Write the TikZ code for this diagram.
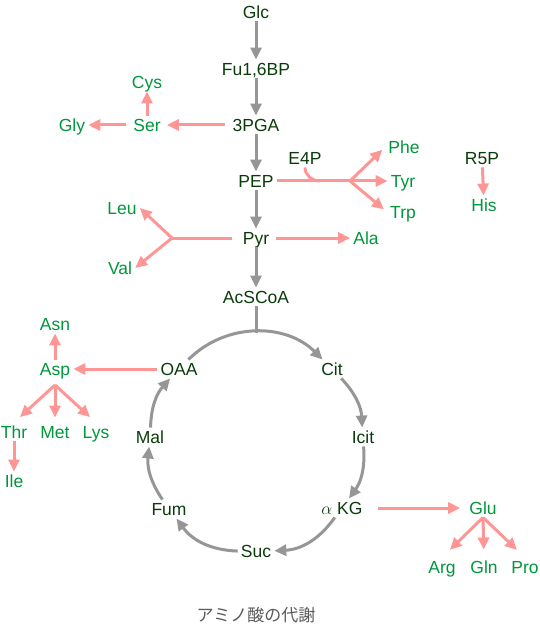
\documentclass[tikz,border=0pt]{standalone}
\usepackage{fontspec}
\setmainfont{Liberation Sans}
\newfontfamily\jpfont{Noto Sans CJK JP}
\usetikzlibrary{arrows.meta}

\definecolor{metab}{RGB}{10,60,10}
\definecolor{amino}{RGB}{0,150,60}
\definecolor{pinkline}{RGB}{255,150,150}
\definecolor{grayline}{RGB}{150,150,150}
\definecolor{captext}{RGB}{90,90,90}

\begin{document}
\begin{tikzpicture}[x=1pt, y=-1pt,
    lbl/.style={font=\fontsize{17.5}{20}\selectfont, text height=12.5pt, text depth=0pt, inner sep=3pt},
    met/.style={lbl, text=metab},
    amn/.style={lbl, text=amino},
    gy/.style={draw=grayline, line width=3pt},
    pk/.style={draw=pinkline, line width=3pt},
    gyarrow/.style={gy, -{Triangle[length=12pt,width=11pt]}},
    pkarrow/.style={pk, -{Triangle[length=12pt,width=11pt]}}
]

\useasboundingbox (0,0) rectangle (539,628);

% --- Glycolysis backbone ---
\node[met] (glc)  at (256,12)  {Glc};
\node[met] (fbp)  at (256,69)  {Fu1,6BP};
\node[met] (pga)  at (256,125) {3PGA};
\node[met] (pep)  at (256,181) {PEP};
\node[met] (pyr)  at (256,238) {Pyr};
\node[met] (acoa) at (256,297) {AcSCoA};
\node[met] (e4p)  at (305,158) {E4P};
\node[met] (r5p)  at (482,158) {R5P};

% --- TCA cycle ---
\node[met] (oaa)  at (179,369) {OAA};
\node[met] (cit)  at (332,369) {Cit};
\node[met] (icit) at (363,437) {Icit};
\node[met] (akg)  at (342,508) {$\alpha$ KG};
\node[met] (suc)  at (256,551) {Suc};
\node[met] (fum)  at (169,509) {Fum};
\node[met] (mal)  at (150,437) {Mal};
\coordinate (tcatop) at (256,333);

% --- Amino acids ---
\node[amn] (ser) at (147,125) {Ser};
\node[amn] (cys) at (147,82)  {Cys};
\node[amn] (gly) at (72,125)  {Gly};
\node[amn] (phe) at (404,147) {Phe};
\node[amn] (tyr) at (403,181) {Tyr};
\node[amn] (trp) at (403,212) {Trp};
\node[amn] (his) at (484,205) {His};
\node[amn] (ala) at (366,238) {Ala};
\node[amn] (leu) at (122,208) {Leu};
\node[amn] (val) at (120,268) {Val};
\node[amn] (asp) at (55,369)  {Asp};
\node[amn] (asn) at (55,324)  {Asn};
\node[amn] (thr) at (14,432)  {Thr};
\node[amn] (met) at (55,432)  {Met};
\node[amn] (lys) at (96,432)  {Lys};
\node[amn] (ile) at (14,481)  {Ile};
\node[amn] (glu) at (483,508) {Glu};
\node[amn] (arg) at (442,567) {Arg};
\node[amn] (gln) at (484,567) {Gln};
\node[amn] (pro) at (525,567) {Pro};

\coordinate (pepfork) at (350,181);
\coordinate (e4pjoin) at (320,181);
\coordinate (pyrfork) at (172,238);
\coordinate (aspfork) at (55,385);

% --- Gray arrows: main pathway ---
\draw[gyarrow] (glc) -- (fbp);
\draw[gyarrow] (fbp) -- (pga);
\draw[gyarrow] (pga) -- (pep);
\draw[gyarrow] (pep) -- (pyr);
\draw[gyarrow] (pyr) -- (acoa);
\draw[gy] (acoa) -- (tcatop);

\draw[gyarrow] (oaa)  to[bend left=45] (cit);
\draw[gyarrow] (cit)  to[bend left=20] (icit);
\draw[gyarrow] (icit) to[bend left=20] (akg);
\draw[gyarrow] (akg)  to[bend left=26] (suc);
\draw[gyarrow] (suc)  to[bend left=26] (fum);
\draw[gyarrow] (fum)  to[bend left=20] (mal);
\draw[gyarrow] (mal)  to[bend left=20] (oaa);

% --- Pink arrows: amino acid synthesis ---
\draw[pkarrow, shorten <=4pt, shorten >=3pt] (pga) -- (ser);
\draw[pkarrow, shorten <=4pt] (ser) -- (gly);
\draw[pkarrow] (ser) -- (cys);

\draw[pk] (pep) -- (pepfork);
\draw[pk] (e4p.south) to[out=-90, in=180] (e4pjoin);
\draw[pkarrow, shorten >=4pt] (pepfork) -- (phe.west);
\draw[pkarrow] (pepfork) -- (tyr.west);
\draw[pkarrow, shorten >=4pt] (pepfork) -- (trp.west);

\draw[pkarrow] (r5p) -- (his);

\draw[pkarrow, shorten <=4pt] (pyr) -- (ala);
\draw[pk, shorten <=8pt] (pyr) -- (pyrfork);
\draw[pkarrow] (pyrfork) -- (leu.east);
\draw[pkarrow] (pyrfork) -- (val.east);

\draw[pkarrow] (oaa) -- (asp);
\draw[pkarrow] (asp) -- (asn);
\draw[pkarrow, shorten >=8pt] (aspfork) -- (thr.north);
\draw[pkarrow, shorten >=5pt] (aspfork) -- (met.north);
\draw[pkarrow, shorten >=8pt] (aspfork) -- (lys.north);
\draw[pkarrow] (thr) -- (ile);

\draw[pkarrow, shorten <=12pt, shorten >=6pt] (akg) -- (glu);
\draw[pkarrow, shorten >=11pt] (glu.south) -- (arg.north);
\draw[pkarrow, shorten >=8pt] (glu.south) -- (gln.north);
\draw[pkarrow, shorten >=11pt] (glu.south) -- (pro.north);

% --- Caption ---
\node[font=\jpfont\fontsize{17}{20}\selectfont, text=captext] (title) at (256,615) {アミノ酸の代謝};

\end{tikzpicture}
\end{document}
